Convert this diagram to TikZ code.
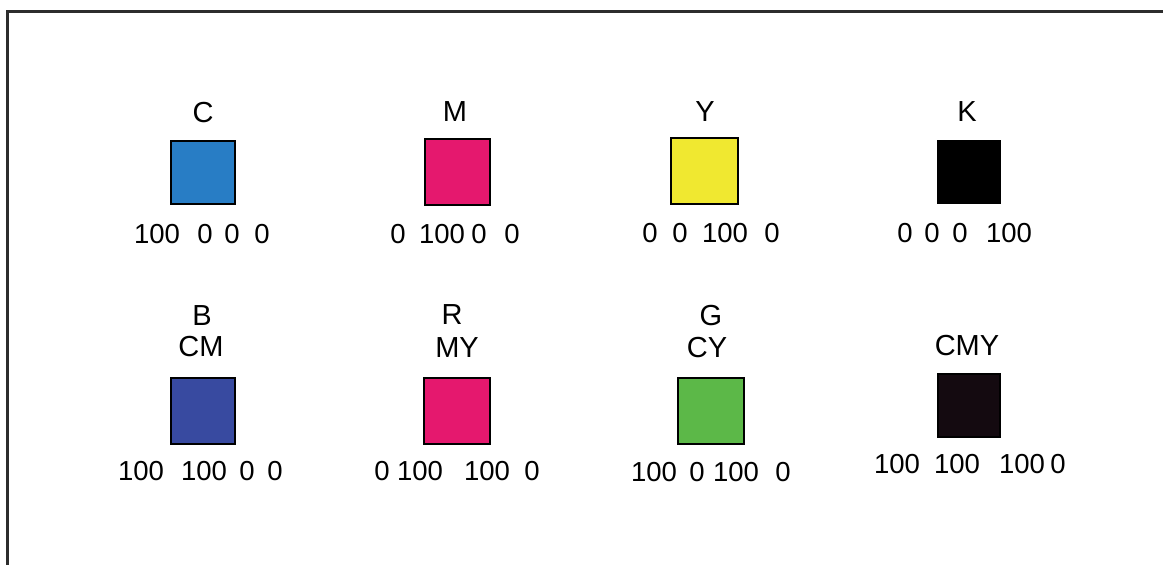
\documentclass[tikz,border=0pt]{standalone}
\usepackage{fontspec}
\setmainfont{Liberation Sans}
\definecolor{cC}{RGB}{40,125,197}
\definecolor{cM}{RGB}{229,24,110}
\definecolor{cY}{RGB}{240,232,48}
\definecolor{cK}{RGB}{0,0,0}
\definecolor{cB}{RGB}{56,74,160}
\definecolor{cR}{RGB}{229,24,110}
\definecolor{cG}{RGB}{92,184,72}
\definecolor{cCMY}{RGB}{20,10,16}
\definecolor{frame}{RGB}{45,45,45}
\begin{document}
\begin{tikzpicture}[x=1pt,y=-1pt,
  sq/.style={draw=black, line width=1.2pt, inner sep=0pt},
  lab/.style={inner sep=0pt, font=\fontsize{29}{31}\selectfont},
  num/.style={inner sep=0pt, font=\fontsize{27.5}{29}\selectfont}]
\useasboundingbox (0,0) rectangle (1163,565);
\fill[white] (0,0) rectangle (1163,565);
\draw[frame, line width=3pt] (7,565) -- (7,11) -- (1163,11);
% squares
\node[sq, fill=cC, minimum width=64, minimum height=63] (sqC) at (203,172.5) {};
\node[sq, fill=cM, minimum width=65, minimum height=66] (sqM) at (457.5,172) {};
\node[sq, fill=cY, minimum width=67, minimum height=66] (sqY) at (704.5,171) {};
\node[sq, fill=cK, minimum width=62, minimum height=62] (sqK) at (969,172) {};
\node[sq, fill=cB, minimum width=64, minimum height=66] (sqB) at (203,411) {};
\node[sq, fill=cR, minimum width=66, minimum height=66] (sqR) at (457,411) {};
\node[sq, fill=cG, minimum width=66, minimum height=66] (sqG) at (711,411) {};
\node[sq, fill=cCMY, minimum width=62, minimum height=63] (sqCMY) at (969,405.5) {};
% labels
\node[lab] (lC) at (203,113) {C};
\node[lab] (lM) at (455,112) {M};
\node[lab] (lY) at (705,112) {Y};
\node[lab] (lK) at (967,112) {K};
\node[lab] (lB) at (202,316) {B};
\node[lab] (lCM) at (201,347) {CM};
\node[lab] (lR) at (452,315) {R};
\node[lab] (lMY) at (457,348) {MY};
\node[lab] (lG) at (711,316) {G};
\node[lab] (lCY) at (707,348) {CY};
\node[lab] (lCMY) at (967,346) {CMY};
% numbers row 1
\node[num] (nC1) at (157,234) {100};
\node[num] (nC2) at (205,234) {0};
\node[num] (nC3) at (232,234) {0};
\node[num] (nC4) at (262,234) {0};
\node[num] (nM1) at (398,234) {0};
\node[num] (nM2) at (442,234) {100};
\node[num] (nM3) at (479,234) {0};
\node[num] (nM4) at (512,234) {0};
\node[num] (nY1) at (650,233) {0};
\node[num] (nY2) at (680,233) {0};
\node[num] (nY3) at (725,233) {100};
\node[num] (nY4) at (772,233) {0};
\node[num] (nK1) at (905,233) {0};
\node[num] (nK2) at (932,233) {0};
\node[num] (nK3) at (960,233) {0};
\node[num] (nK4) at (1009,233) {100};
% numbers row 2
\node[num] (nB1) at (141,471) {100};
\node[num] (nB2) at (204,471) {100};
\node[num] (nB3) at (247,471) {0};
\node[num] (nB4) at (275,471) {0};
\node[num] (nR1) at (382,471) {0};
\node[num] (nR2) at (420,471) {100};
\node[num] (nR3) at (487,471) {100};
\node[num] (nR4) at (532,471) {0};
\node[num] (nG1) at (654,472) {100};
\node[num] (nG2) at (697,472) {0};
\node[num] (nG3) at (736,472) {100};
\node[num] (nG4) at (783,472) {0};
\node[num] (nX1) at (897,464) {100};
\node[num] (nX2) at (957,464) {100};
\node[num] (nX3) at (1022,464) {100};
\node[num] (nX4) at (1058,464) {0};
\end{tikzpicture}
\end{document}
